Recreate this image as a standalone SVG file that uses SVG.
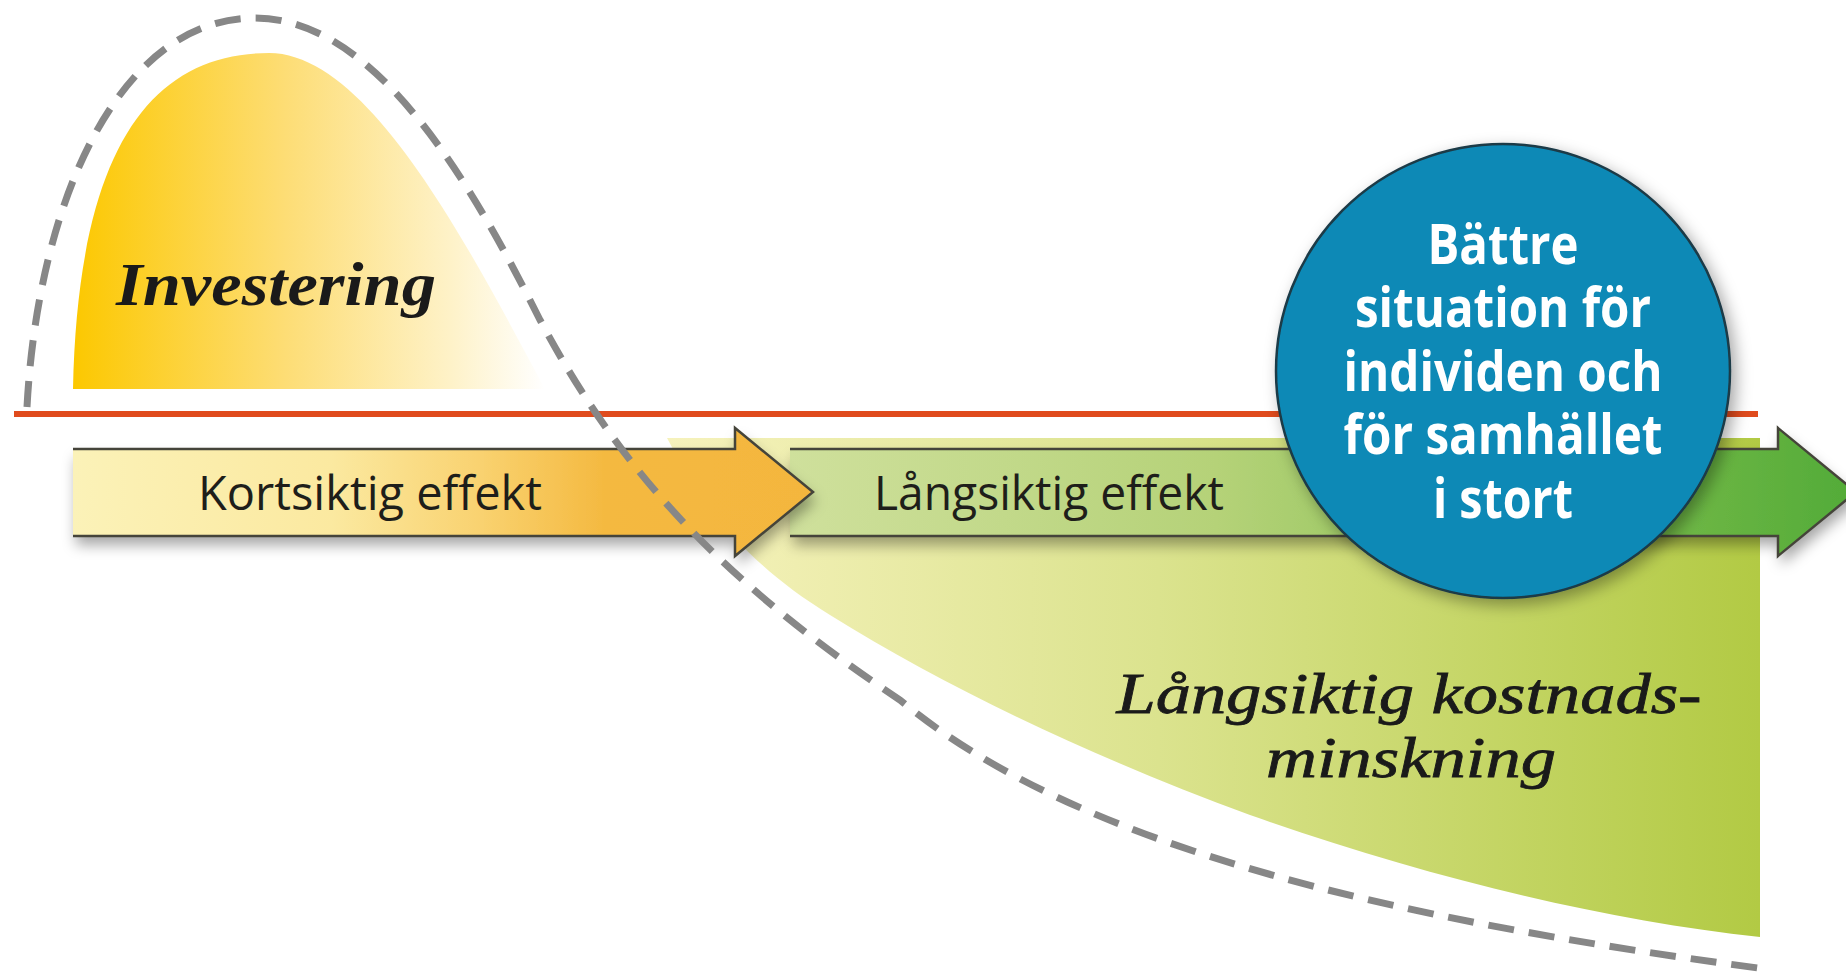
<svg xmlns="http://www.w3.org/2000/svg" width="1846" height="976" viewBox="0 0 1846 976">
<style>
.lbl{font-family:"Open Sans","Noto Sans","Liberation Sans",sans-serif;font-size:48px;fill:#1e1e1a}
.circ{font-family:"Open Sans","Noto Sans","Liberation Sans",sans-serif;font-size:55px;font-weight:bold;fill:#ffffff;text-anchor:middle}
.ital{font-family:"Liberation Serif","DejaVu Serif",serif;font-style:italic;fill:#1a1a1a}
.edge{fill:none;stroke:#45443a;stroke-width:2.5;stroke-linejoin:miter}
</style>
<defs>
<linearGradient id="gHump" x1="73" y1="0" x2="545" y2="0" gradientUnits="userSpaceOnUse">
<stop offset="0" stop-color="#fcc800"/>
<stop offset="0.45" stop-color="#fddd75"/>
<stop offset="0.8" stop-color="#fef2c8"/>
<stop offset="1" stop-color="#ffffff"/>
</linearGradient>
<linearGradient id="gGreen" x1="667" y1="0" x2="1760" y2="0" gradientUnits="userSpaceOnUse">
<stop offset="0" stop-color="#f6f2bc"/>
<stop offset="0.45" stop-color="#dbe38e"/>
<stop offset="1" stop-color="#b2ca44"/>
</linearGradient>
<linearGradient id="gA1" x1="73" y1="0" x2="813" y2="0" gradientUnits="userSpaceOnUse">
<stop offset="0" stop-color="#fbf2b8"/>
<stop offset="0.35" stop-color="#fbe9a0"/>
<stop offset="0.55" stop-color="#f9d270"/>
<stop offset="0.72" stop-color="#f4b940"/>
<stop offset="1" stop-color="#f4b63e"/>
</linearGradient>
<linearGradient id="gA2" x1="790" y1="0" x2="1856" y2="0" gradientUnits="userSpaceOnUse">
<stop offset="0" stop-color="#cfe09c"/>
<stop offset="0.4" stop-color="#b5d278"/>
<stop offset="0.75" stop-color="#7dbd4c"/>
<stop offset="1" stop-color="#52ab38"/>
</linearGradient>
<filter id="shadow" x="-10%" y="-30%" width="120%" height="170%">
<feDropShadow dx="3" dy="9" stdDeviation="7" flood-color="#000" flood-opacity="0.35"/>
</filter>
<filter id="cshadow" x="-20%" y="-20%" width="140%" height="140%">
<feDropShadow dx="5" dy="6" stdDeviation="8" flood-color="#000" flood-opacity="0.35"/>
</filter>
</defs>
<rect width="1846" height="976" fill="#ffffff"/>

<g id="investering">
<path d="M73,389 C78,150 150,53 269,53 C370,53 470,250 545,389 Z" fill="url(#gHump)"/>
<text class="ital" x="116" y="305" font-size="62" font-weight="bold" textLength="320" lengthAdjust="spacingAndGlyphs">Investering</text>
</g>

<g id="kostnadsminskning">
<path d="M667,438 L1760,438 L1760,937 C1600,920 1420,875 1250,815 C1100,760 950,690 830,615 C740,560 700,500 667,438 Z" fill="url(#gGreen)"/>
<text class="ital" x="1409" y="713" font-size="58" text-anchor="middle" stroke="#1a1a1a" stroke-width="0.8" textLength="585" lengthAdjust="spacingAndGlyphs">Långsiktig kostnads-</text>
<text class="ital" x="1411" y="777" font-size="58" text-anchor="middle" stroke="#1a1a1a" stroke-width="0.8" textLength="290" lengthAdjust="spacingAndGlyphs">minskning</text>
</g>

<g id="baseline">
<line x1="14" y1="414" x2="1758" y2="414" stroke="#e04b1d" stroke-width="6"/>
</g>

<g id="langsiktig-effekt">
<path d="M790,449 L1778,449 L1778,428 L1856,492 L1778,556 L1778,536 L790,536 Z" fill="url(#gA2)" filter="url(#shadow)"/>
<polyline class="edge" points="790,449 1778,449 1778,428 1856,492 1778,556 1778,536 790,536"/>
<text class="lbl" x="874" y="510" textLength="350" lengthAdjust="spacingAndGlyphs">Långsiktig effekt</text>
</g>

<g id="kortsiktig-effekt">
<path d="M73,449 L735,449 L735,428 L813,492 L735,556 L735,536 L73,536 Z" fill="url(#gA1)" filter="url(#shadow)"/>
<polyline class="edge" points="73,449 735,449 735,428 813,492 735,556 735,536 73,536"/>
<text class="lbl" x="198" y="510" textLength="344" lengthAdjust="spacingAndGlyphs">Kortsiktig effekt</text>
</g>

<g id="connectors">
<path d="M27,407 C38,200 120,18 255,18 C375,18 470,180 540,320 C620,470 720,580 900,700 C1080,850 1400,920 1758,968" fill="none" stroke="#878787" stroke-width="7" stroke-dasharray="26 15"/>
</g>

<g id="resultat">
<circle cx="1503" cy="371" r="227" fill="#0b89b6" stroke="#1c3a47" stroke-width="2.5" filter="url(#cshadow)"/>
<text class="circ" x="1503" y="264" textLength="151" lengthAdjust="spacingAndGlyphs">Bättre</text>
<text class="circ" x="1503" y="327" textLength="296" lengthAdjust="spacingAndGlyphs">situation för</text>
<text class="circ" x="1503" y="391" textLength="319" lengthAdjust="spacingAndGlyphs">individen och</text>
<text class="circ" x="1503" y="454" textLength="319" lengthAdjust="spacingAndGlyphs">för samhället</text>
<text class="circ" x="1503" y="518" textLength="140" lengthAdjust="spacingAndGlyphs">i stort</text>
</g>
</svg>
